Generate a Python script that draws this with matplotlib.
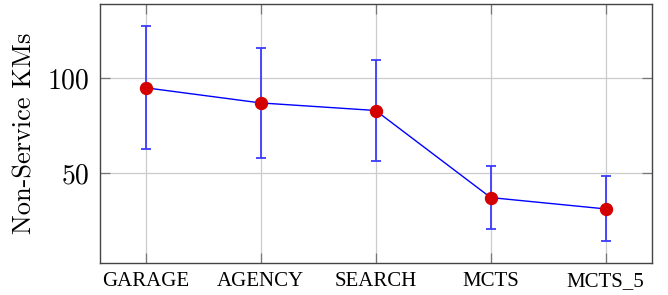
import numpy as np
import matplotlib
matplotlib.use("Agg")
import matplotlib.pyplot as plt

# values
methods = ["GARAGE", "AGENCY", "SEARCH", "MCTS", "MCTS_5"]
mean_km = [95.0, 87.0, 83.0, 37.0, 31.0]
err_low = [62.5, 58.0, 56.3, 20.6, 14.3]
err_high = [127.6, 116.0, 109.5, 53.7, 48.6]
yticks = [50, 100]

x = np.arange(len(methods))
mean = np.array(mean_km)
yerr = [mean - np.array(err_low), np.array(err_high) - mean]

fig = plt.figure(figsize=(6.68, 2.95), dpi=100)
ax = fig.add_axes([0.1497, 0.1095, 0.8259, 0.8759])

ax.errorbar(x, mean, yerr=yerr, fmt="none", ecolor="#3b3bff",
            elinewidth=1.3, capsize=3.4, capthick=1.3, zorder=2)
ax.plot(x, mean, color="blue", lw=1.0, zorder=3)
ax.plot(x, mean, "o", color="#d40000", markersize=8.6, mec="#d40000", zorder=4)

ax.set_xlim(-0.397, 4.4)
ax.set_ylim(2.6, 139.1)
ax.set_xticks(x)
ax.set_xticklabels(methods, fontfamily="Liberation Serif", fontsize=15)
ax.set_yticks(yticks)
ax.set_yticklabels([str(v) for v in yticks], fontfamily="cmr10", fontsize=20)
ax.set_ylabel("Non-Service KMs", fontfamily="cmr10", fontsize=19, labelpad=8)

ax.grid(True, color="#cccccc", lw=0.9, zorder=0)
ax.set_axisbelow(True)
ax.tick_params(axis="both", direction="in", top=True, right=True, length=7,
               width=0.9, color="#777777")
ax.tick_params(axis="x", pad=7)
ax.tick_params(axis="y", pad=8)
for s in ax.spines.values():
    s.set_color("#444444")
    s.set_linewidth(1.0)

fig.savefig("out.png", dpi=100)
